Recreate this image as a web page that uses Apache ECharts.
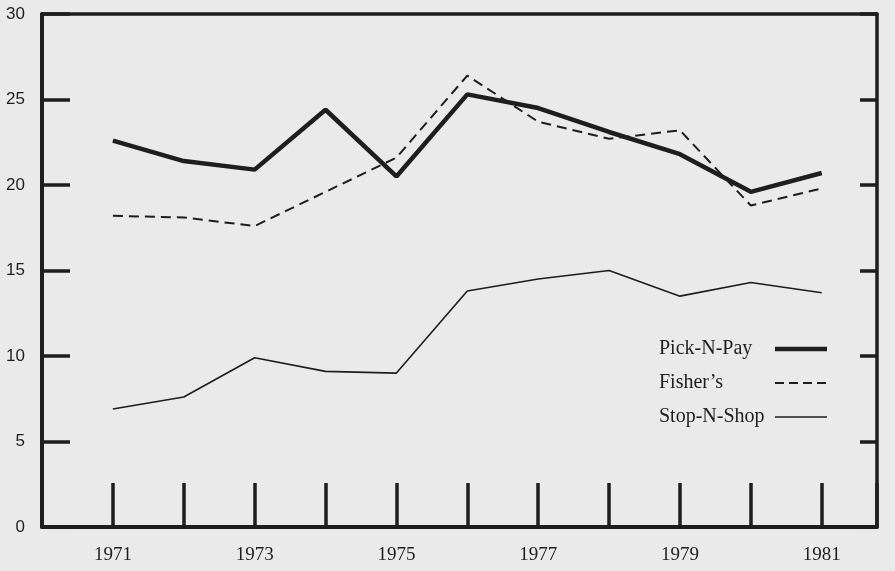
<!DOCTYPE html>
<html>
<head>
<meta charset="utf-8">
<script src="https://cdn.jsdelivr.net/npm/echarts@6/dist/echarts.min.js"></script>
<style>
  html, body { margin: 0; padding: 0; background: #eaeaea; }
  #chart { width: 895px; height: 571px; }
</style>
</head>
<body>
<div id="chart"></div>
<script>
// years on the x axis
const years = [1971, 1972, 1973, 1974, 1975, 1976, 1977, 1978, 1979, 1980, 1981];
// values
const pickNPay   = [22.6, 21.4, 20.9, 24.4, 20.5, 25.3, 24.5, 23.1, 21.8, 19.6, 20.7];
const fishers    = [18.2, 18.1, 17.6, 19.6, 21.6, 26.4, 23.7, 22.7, 23.2, 18.8, 19.8];
const stopNShop  = [6.9, 7.6, 9.9, 9.1, 9.0, 13.8, 14.5, 15.0, 13.5, 14.3, 13.7];
const yearLabels = [1971, 1973, 1975, 1977, 1979, 1981];

const ink = '#1e1e1e';
const serif = 'Liberation Serif';

function pairs(vals) {
  return years.map((y, i) => [y, vals[i]]);
}

let myChart = echarts.init(document.getElementById('chart'));
myChart.setOption({
  backgroundColor: '#eaeaea',
  animation: false,
  grid: { left: 42, right: 18, top: 14, bottom: 44 },
  legend: {
    orient: 'vertical',
    left: 654,
    top: 334,
    align: 'right',
    itemWidth: 52,
    itemHeight: 14,
    itemGap: 14,
    inactiveColor: ink,
    itemStyle: { opacity: 0 },
    formatter: name => '{t|' + name + '}',
    textStyle: {
      color: ink,
      rich: { t: { width: 111, fontFamily: serif, fontSize: 20, color: ink, align: 'left' } }
    },
    data: [
      { name: 'Pick-N-Pay', lineStyle: { width: 4.5 } },
      { name: "Fisher\u2019s", lineStyle: { width: 2, type: [9, 5] } },
      { name: 'Stop-N-Shop', lineStyle: { width: 1.6 } }
    ]
  },
  xAxis: [{
    type: 'value',
    position: 'bottom',
    min: 1970,
    max: 1981.78,
    interval: 1,
    splitLine: { show: false },
    axisLine: { lineStyle: { color: ink, width: 4 } },
    axisTick: { inside: true, length: 44, lineStyle: { color: ink, width: 3.5 } },
    axisLabel: {
      margin: 19,
      fontFamily: serif,
      fontSize: 19,
      color: ink,
      formatter: v => yearLabels.indexOf(v) >= 0 ? String(v) : ''
    }
  }, {
    type: 'value',
    position: 'top',
    min: 1970,
    max: 1981.78,
    splitLine: { show: false },
    axisLine: { onZero: false, lineStyle: { color: ink, width: 3.5 } },
    axisTick: { show: false },
    axisLabel: { show: false }
  }],
  yAxis: [{
    type: 'value',
    position: 'left',
    min: 0,
    max: 30,
    interval: 5,
    splitLine: { show: false },
    axisLine: { show: true, lineStyle: { color: ink, width: 4 } },
    axisTick: { show: true, inside: true, length: 28, lineStyle: { color: ink, width: 3.5 } },
    axisLabel: { margin: 17, fontFamily: 'Liberation Sans', fontSize: 17, color: ink }
  }, {
    type: 'value',
    position: 'right',
    min: 0,
    max: 30,
    interval: 5,
    splitLine: { show: false },
    axisLine: { show: true, onZero: false, lineStyle: { color: ink, width: 3.5 } },
    axisTick: { show: true, inside: true, length: 17, lineStyle: { color: ink, width: 3.5 } },
    axisLabel: { show: false }
  }],
  series: [{
    name: 'Pick-N-Pay',
    type: 'line',
    data: pairs(pickNPay),
    symbol: 'none',
    color: ink,
    lineStyle: { color: ink, width: 4.5 }
  }, {
    name: "Fisher\u2019s",
    type: 'line',
    data: pairs(fishers),
    symbol: 'none',
    color: ink,
    lineStyle: { color: ink, width: 2, type: [10, 6] }
  }, {
    name: 'Stop-N-Shop',
    type: 'line',
    data: pairs(stopNShop),
    symbol: 'none',
    color: ink,
    lineStyle: { color: ink, width: 1.6 }
  }]
});
</script>
</body>
</html>
